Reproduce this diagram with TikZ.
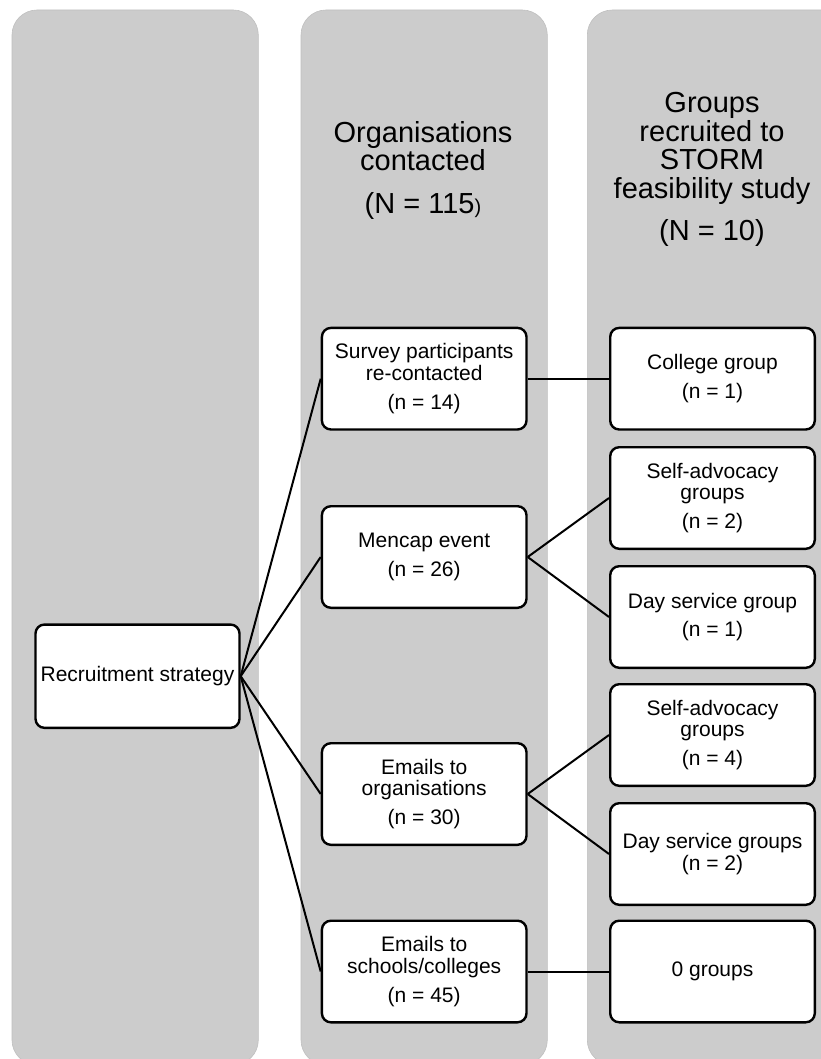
\documentclass[tikz,border=0pt]{standalone}
\usepackage{fontspec}
\setmainfont{Liberation Sans}
\definecolor{lanegray}{HTML}{CCCCCC}
\definecolor{laneedge}{HTML}{BFBFBF}
\newcommand{\boxfont}{\fontsize{21}{21.7}\selectfont}
\newcommand{\headfont}{\fontsize{29}{28.5}\selectfont}
\newcommand{\smallparen}{\fontsize{20}{22}\selectfont}
\begin{document}
\begin{tikzpicture}[x=1pt,y=-1pt,
  lane/.style={fill=lanegray, draw=laneedge, line width=0.6pt, rounded corners=25pt,
               minimum height=1055pt, inner sep=0pt},
  head/.style={align=center, inner sep=0pt, font=\headfont},
  box/.style={draw=black, fill=white, line width=2.4pt, rounded corners=9pt,
              minimum width=204.6pt, minimum height=101.6pt, inner sep=0pt,
              align=center, font=\boxfont},
  link/.style={draw=black, line width=2pt}]
\useasboundingbox (0,0) rectangle (820,1059);

% background lanes
\node[lane, minimum width=246.3pt] (lane1) at (135.15,537.5) {};
\node[lane, minimum width=246.3pt] (lane2) at (424.15,537.5) {};
\node[lane, minimum width=262.7pt] (lane3) at (718.65,537.5) {};

% lane headings
\node[head] (head2) at (423,170) {Organisations\\contacted\\[14pt](N = 115{\smallparen)}};
\node[head] (head3) at (712,169.4) {Groups\\recruited to\\STORM\\feasibility study\\[14pt](N = 10)};

% strategy
\node[box, minimum width=204pt, minimum height=103.3pt] (rs) at (137.5,676.2) {Recruitment strategy};

% organisations contacted
\node[box] (survey) at (424.2,378.7) {Survey participants\\re-contacted\\[7.3pt](n = 14)};
\node[box] (mencap) at (424.2,557) {Mencap event\\[7.3pt](n = 26)};
\node[box] (eorg) at (424.2,794) {Emails to\\organisations\\[7.3pt](n = 30)};
\node[box] (eschool) at (424.2,971.5) {Emails to\\schools/colleges\\[7.3pt](n = 45)};

% groups recruited
\node[box] (college) at (712.5,378.7) {College group\\[7.6pt](n = 1)};
\node[box] (sa2) at (712.5,498) {Self-advocacy\\groups\\[7.3pt](n = 2)};
\node[box] (ds1) at (712.5,617) {Day service group\\[7pt](n = 1)};
\node[box] (sa4) at (712.5,735) {Self-advocacy\\groups\\[7.3pt](n = 4)};
\node[box] (ds2) at (712.5,854) {Day service groups\\(n = 2)};
\node[box] (zero) at (712.5,971.5) {0 groups};

% connectors
\foreach \t in {survey,mencap,eorg,eschool}
  \draw[link] (rs.east) -- (\t.west);
\draw[link] (survey.east) -- (college.west);
\draw[link] (mencap.east) -- (sa2.west);
\draw[link] (mencap.east) -- (ds1.west);
\draw[link] (eorg.east) -- (sa4.west);
\draw[link] (eorg.east) -- (ds2.west);
\draw[link] (eschool.east) -- (zero.west);
\end{tikzpicture}
\end{document}
